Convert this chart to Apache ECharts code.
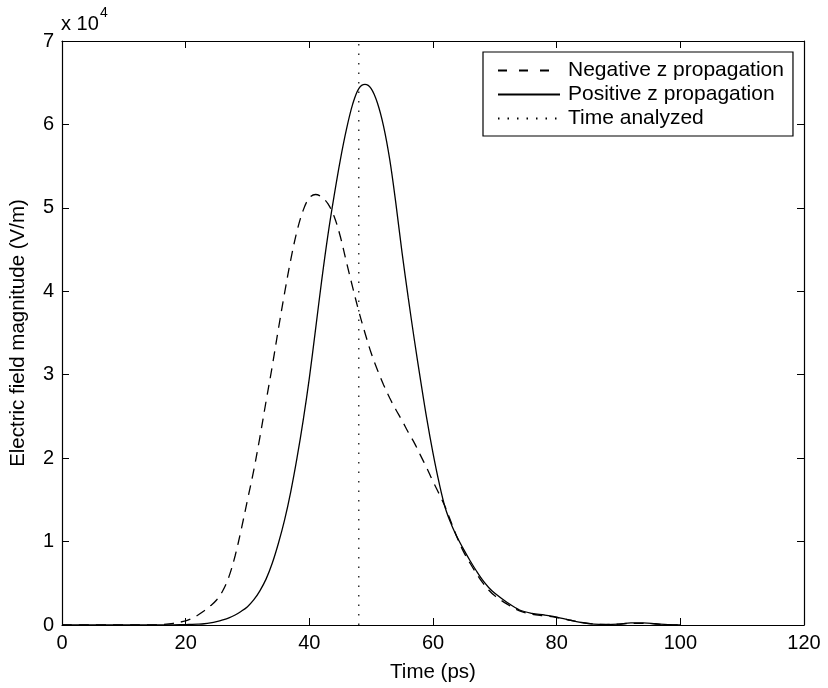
<!DOCTYPE html>
<html>
<head>
<meta charset="utf-8">
<script src="https://cdn.jsdelivr.net/npm/echarts@6/dist/echarts.min.js"></script>
<style>
html,body{margin:0;padding:0;background:#fff;}
#chart{width:828px;height:688px;}
</style>
</head>
<body>
<div id="chart"></div>
<script>
// Time samples (ps)
const timePs = [0,10,14,16,18,20,21,22,23,24,25,26,27,28,29,30,31,32,33,34,35,36,37,38,39,40,41,42,43,44,45,46,47,48,49,50,51,52,53,54,55,56,57,58,59,60,61,62,63,64,65,66,67,68,69,70,72,74,76,78,80,82,84,86,88,90,92,94,96,98,100];
// Negative z propagation (V/m)
const negZ = [0,0,0,50,200,500,800,1200,1700,2300,3000,4100,5800,8300,11500,15000,18500,22500,26800,31000,35500,39800,43800,47200,49700,51200,51600,51300,50500,49000,46600,43500,40500,37600,35000,32600,30600,28800,27200,25800,24500,23100,21800,20300,18800,17200,15700,14100,12200,10300,8700,7400,6200,5100,4200,3500,2500,1700,1300,1100,900,600,300,120,60,100,200,200,120,40,0];
// Positive z propagation (V/m)
const posZ = [0,0,0,0,20,50,70,100,150,250,400,600,850,1200,1650,2200,3000,4100,5500,7400,9800,12600,16000,20000,24500,29600,35400,41300,46700,51400,55700,59400,62400,64300,64800,64300,62600,59800,55800,50500,44600,39200,34100,29300,24700,20600,17000,14000,12000,10400,9000,7700,6500,5400,4500,3800,2700,1800,1400,1200,950,600,300,100,50,100,250,250,150,50,0];
// Time analyzed marker (ps)
const timeAnalyzed = 48;
const seriesNames = ['Negative z propagation','Positive z propagation','Time analyzed'];
const xTicks = {min:0, max:120, interval:20};
const yTicks = {min:0, max:70000, interval:10000, scale:10000};

const FONT = "'Liberation Sans', Arial, Helvetica, sans-serif";
const zip = (t, v) => t.map((x, i) => [x, v[i]]);

const chart = echarts.init(document.getElementById('chart'), null, {renderer:'canvas'});
const axisCommon = {
  axisLine:{show:true, onZero:false, lineStyle:{color:'#000', width:1.2}},
  axisTick:{show:true, inside:true, length:7, lineStyle:{color:'#000', width:1}},
  splitLine:{show:false}
};
chart.setOption({
  animation:false,
  backgroundColor:'#fff',
  grid:{left:61, right:24, top:41, bottom:61, containLabel:false},
  xAxis:[
    Object.assign({type:'value', position:'bottom', min:xTicks.min, max:xTicks.max, interval:xTicks.interval,
      name:'Time (ps)', nameLocation:'middle', nameGap:37,
      nameTextStyle:{fontFamily:FONT, fontSize:20.5, color:'#000'},
      axisLabel:{fontFamily:FONT, fontSize:20, color:'#000', margin:8}}, axisCommon),
    Object.assign({type:'value', position:'top', min:xTicks.min, max:xTicks.max, interval:xTicks.interval,
      axisLabel:{show:false}}, axisCommon)
  ],
  yAxis:[
    Object.assign({type:'value', position:'left', min:yTicks.min, max:yTicks.max, interval:yTicks.interval,
      name:'Electric field magnitude (V/m)', nameLocation:'middle', nameGap:33,
      nameTextStyle:{fontFamily:FONT, fontSize:20.5, color:'#000'},
      axisLabel:{fontFamily:FONT, fontSize:20, color:'#000', margin:8, formatter:v => String(v / yTicks.scale)}}, axisCommon),
    Object.assign({type:'value', position:'right', min:yTicks.min, max:yTicks.max, interval:yTicks.interval,
      axisLabel:{show:false}}, axisCommon)
  ],
  legend:{
    orient:'vertical', left:483, top:52,
    data:[
      {name:seriesNames[0], lineStyle:{type:[9,12]}},
      {name:seriesNames[1]},
      {name:seriesNames[2]}
    ],
    backgroundColor:'#fff', borderColor:'#000', borderWidth:1.2, borderRadius:0,
    padding:[7, 9, 6, 14],
    itemWidth:62, itemHeight:14, itemGap:1,
    itemStyle:{opacity:0},
    textStyle:{fontFamily:FONT, fontSize:21, color:'#000', lineHeight:23, padding:[0,0,0,3]}
  },
  graphic:[
    {type:'text', left:61, top:14, style:{text:'x 10', fontFamily:FONT, fontSize:20, fill:'#000'}},
    {type:'text', left:100, top:6, style:{text:'4', fontFamily:FONT, fontSize:14, fill:'#000'}}
  ],
  series:[
    {name:seriesNames[0], type:'line', data:zip(timePs, negZ), symbol:'none', smooth:0.35,
      lineStyle:{color:'#000', width:1.3, type:[10,7]}, itemStyle:{color:'#000'}},
    {name:seriesNames[1], type:'line', data:zip(timePs, posZ), symbol:'none', smooth:0.35,
      lineStyle:{color:'#000', width:1.3, type:'solid'}, itemStyle:{color:'#000'}},
    {name:seriesNames[2], type:'line', data:[[timeAnalyzed, yTicks.min],[timeAnalyzed, yTicks.max]], symbol:'none',
      lineStyle:{color:'#000', width:1.2, type:[1.5,8]}, itemStyle:{color:'#000'}}
  ]
});
</script>
</body>
</html>
